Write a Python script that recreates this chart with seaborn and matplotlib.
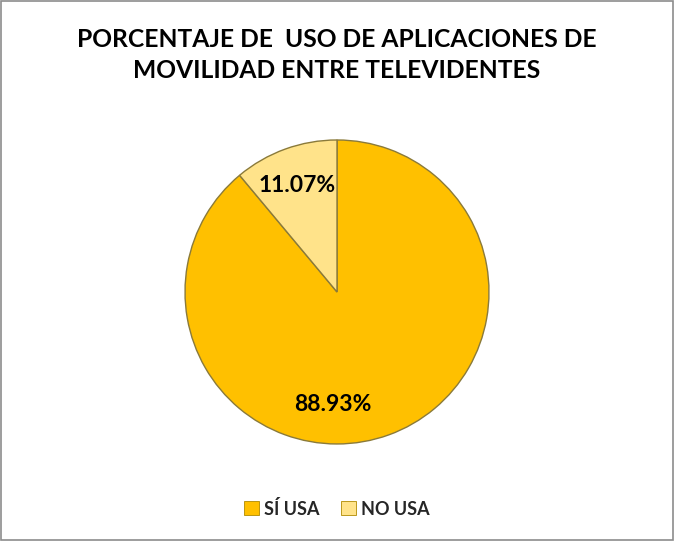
import matplotlib
matplotlib.use("Agg")
import matplotlib.pyplot as plt
import seaborn as sns
from matplotlib.patches import Rectangle, Patch

categories = ["SÍ USA", "NO USA"]
values = [88.93, 11.07]
colors = ["#FFC000", "#FFE38A"]
title = "PORCENTAJE DE  USO DE APLICACIONES DE\nMOVILIDAD ENTRE TELEVIDENTES"

sns.set_theme(style="white")
plt.rcParams["font.family"] = ["Lato", "DejaVu Sans"]

fig = plt.figure(figsize=(6.74, 5.41), dpi=100)
fig.patch.set_facecolor("white")
fig.patches.append(Rectangle((0.001, 0.001), 0.997, 0.997, transform=fig.transFigure,
                             fill=False, edgecolor="#8C8C8C", linewidth=1.2))

ax = fig.add_axes([0.2745, 0.1793, 0.451, 0.562])
wedges, texts, autotexts = ax.pie(
    values, colors=colors, startangle=90, counterclock=False,
    autopct=lambda p: f"{p:.2f}%", pctdistance=0.75,
    wedgeprops=dict(edgecolor="#8A7A3A", linewidth=1.0),
    textprops=dict(fontsize=16.5, fontweight="bold", color="black"))
autotexts[0].set_position((-0.026, -0.743))
autotexts[1].set_position((-0.26, 0.70))
ax.set_xlim(-1, 1)
ax.set_ylim(-1, 1)
ax.set_aspect("equal")

fig.text(0.5, 0.898, title, ha="center", va="center", fontsize=17.7,
         fontweight="bold", linespacing=1.45, color="black")

handles = [Patch(facecolor=c, edgecolor="#B08A00", linewidth=0.6) for c in colors]
fig.legend(handles, categories, loc="center", bbox_to_anchor=(0.5, 0.06), ncol=2,
           frameon=False, prop=dict(size=13, weight="bold"), handlelength=0.8,
           handleheight=0.8, handletextpad=0.3, columnspacing=1.2)

fig.savefig("out.png", dpi=100)
